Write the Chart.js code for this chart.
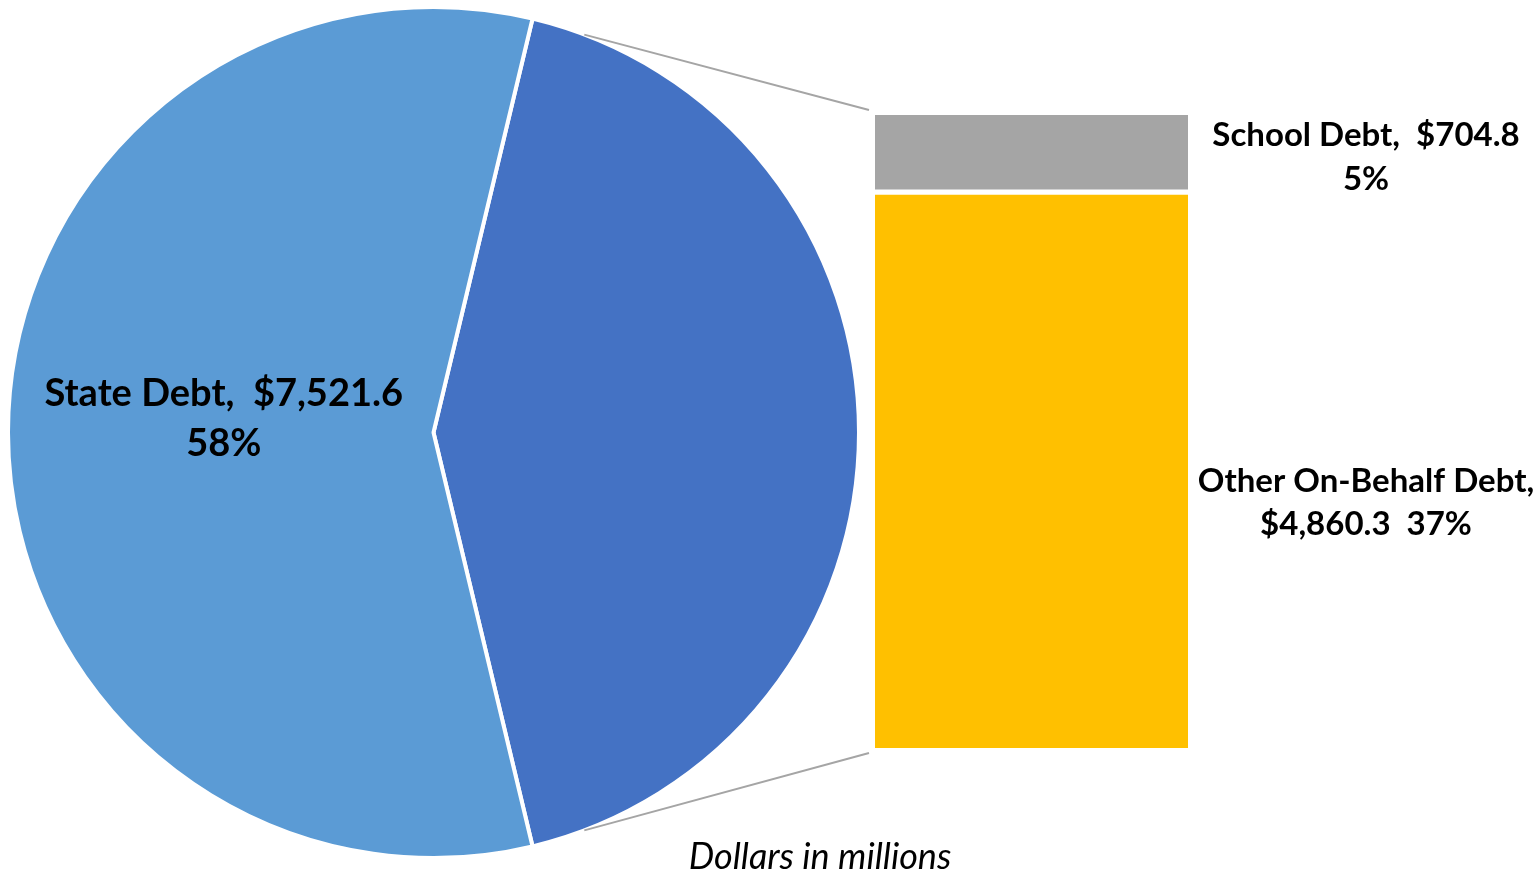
<!DOCTYPE html>
<html>
<head>
<meta charset="utf-8">
<script src="https://cdn.jsdelivr.net/npm/chart.js@4.4.1/dist/chart.umd.min.js"></script>
<style>
  html, body { margin: 0; padding: 0; background: #fff; overflow: hidden; }
  #wrap { position: relative; width: 1539px; height: 872px; }
  #wrap canvas { position: absolute; left: 0; top: 0; }
</style>
</head>
<body>
<div id="wrap">
  <canvas id="pie-chart" width="1539" height="872"></canvas>
  <canvas id="bar-chart" width="1539" height="872"></canvas>
</div>
<script>
// ============================================================
// Debt breakdown — pie with split-out bar (dollars in millions)
// ============================================================

var pieLabels  = ['State Debt'];
var pieValues  = [7521.6];
var barLabels  = ['Other On-Behalf Debt', 'School Debt'];
var barValues  = [4860.3, 704.8];
var barColors  = ['#FFC000', '#A5A5A5'];
var PIE_STATE  = '#5B9BD5';
var PIE_OTHER  = '#4472C4';
var FOOTNOTE   = 'Dollars in millions';

var FONT = 'Lato, "Open Sans", sans-serif';

var otherTotal = barValues.reduce(function(s, v) { return s + v; }, 0);
var grandTotal = pieValues[0] + otherTotal;

// whole-number percentages that add up to 100 (largest remainder)
var allValues = pieValues.concat(barValues);
var pctMap = (function() {
  var raw = allValues.map(function(v) { return v / grandTotal * 100; });
  var out = raw.map(Math.floor);
  var left = 100 - out.reduce(function(s, v) { return s + v; }, 0);
  raw.map(function(v, i) { return { i: i, r: v - Math.floor(v) }; })
    .sort(function(a, b) { return b.r - a.r; })
    .slice(0, left)
    .forEach(function(o) { out[o.i]++; });
  return out;
})();

function money(v) {
  return '$' + v.toLocaleString('en-US', { minimumFractionDigits: 1, maximumFractionDigits: 1 });
}
function pct(v) { return pctMap[allValues.indexOf(v)] + '%'; }

function drawLines(ctx, lines, x, y, gap) {
  lines.forEach(function(t, i) { ctx.fillText(t, x, y + i * gap); });
}

// ============================================================
// PIE — split-out slice centred on the right side
// ============================================================

var pieChart = new Chart(document.getElementById('pie-chart'), {
  type: 'pie',
  data: {
    labels: ['Other', pieLabels[0]],
    datasets: [{
      data: [otherTotal, pieValues[0]],
      backgroundColor: [PIE_OTHER, PIE_STATE],
      borderColor: '#fff',
      borderWidth: 4
    }]
  },
  options: {
    responsive: false,
    animation: false,
    events: [],
    rotation: 90 - otherTotal / grandTotal * 180,
    layout: { padding: { left: 6, right: 678, top: 5, bottom: 12 } },
    plugins: { legend: { display: false }, tooltip: { enabled: false } }
  },
  plugins: [{
    id: 'stateLabel',
    afterDraw: function(chart) {
      var arc = chart.getDatasetMeta(0).data[1];
      var p = arc.tooltipPosition();
      var ctx = chart.ctx;
      ctx.save();
      ctx.fillStyle = '#000';
      ctx.font = 'bold 38px ' + FONT;
      ctx.textAlign = 'center';
      ctx.textBaseline = 'alphabetic';
      drawLines(ctx, [pieLabels[0] + ',  ' + money(pieValues[0]), pct(pieValues[0])], p.x + 3, p.y - 27, 50);
      ctx.restore();
    }
  }]
});

// ============================================================
// BAR — stacked breakdown of the split-out slice
// ============================================================

var barChart = new Chart(document.getElementById('bar-chart'), {
  type: 'bar',
  data: {
    labels: ['Other'],
    datasets: barValues.map(function(v, i) {
      return {
        label: barLabels[i],
        data: [v],
        backgroundColor: barColors[i],
        borderColor: '#fff',
        borderWidth: i === 1 ? { top: 0, right: 0, bottom: 6, left: 0 } : 0,
        borderSkipped: false,
        barPercentage: 1,
        categoryPercentage: 1
      };
    })
  },
  options: {
    responsive: false,
    animation: false,
    events: [],
    layout: { padding: { left: 875, right: 351, top: 115, bottom: 124 } },
    scales: {
      x: { stacked: true, display: false },
      y: { stacked: true, display: false, min: 0, max: otherTotal }
    },
    plugins: { legend: { display: false }, tooltip: { enabled: false } }
  },
  plugins: [{
    id: 'barLabels',
    afterDraw: function(chart) {
      var ctx = chart.ctx;
      var other = chart.getDatasetMeta(0).data[0];
      var school = chart.getDatasetMeta(1).data[0];
      var left = other.x - other.width / 2;
      var right = other.x + other.width / 2;
      var top = school.y;
      var bottom = other.base;

      // connector lines from the split-out slice to the bar
      var arc = pieChart.getDatasetMeta(0).data[0];
      var off = 7.3 * Math.PI / 180;
      var r = arc.outerRadius;
      var a1 = arc.startAngle + off, a2 = arc.endAngle - off;
      ctx.save();
      ctx.strokeStyle = '#A5A5A5';
      ctx.lineWidth = 2;
      ctx.beginPath();
      ctx.moveTo(arc.x + r * Math.cos(a1), arc.y + r * Math.sin(a1));
      ctx.lineTo(left - 6, top - 5);
      ctx.moveTo(arc.x + r * Math.cos(a2), arc.y + r * Math.sin(a2));
      ctx.lineTo(left - 6, bottom + 5);
      ctx.stroke();

      ctx.fillStyle = '#000';
      ctx.font = 'bold 33px ' + FONT;
      ctx.textAlign = 'center';
      ctx.textBaseline = 'alphabetic';
      var lx = right + 178;
      var schoolMid = (school.y + school.base) / 2;
      var otherMid = (other.y + other.base) / 2;
      drawLines(ctx, [barLabels[1] + ',  ' + money(barValues[1]), pct(barValues[1])], lx, schoolMid - 9, 44);
      drawLines(ctx, [barLabels[0] + ',', money(barValues[0]) + '  ' + pct(barValues[0])], lx, otherMid + 20, 43);

      ctx.font = 'italic 36px ' + FONT;
      ctx.fillText(FOOTNOTE, 820, 869);
      ctx.restore();
    }
  }]
});
</script>
</body>
</html>
